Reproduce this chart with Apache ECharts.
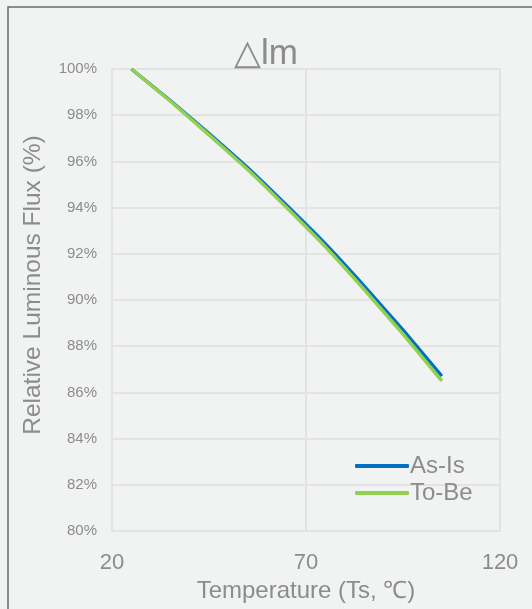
<!DOCTYPE html>
<html>
<head>
<meta charset="utf-8">
<script src="https://cdn.jsdelivr.net/npm/echarts@6/dist/echarts.min.js"></script>
<style>
html,body{margin:0;padding:0;background:#f1f2f2;}
#chart{width:532px;height:609px;}
</style>
</head>
<body>
<div id="chart"></div>
<script>
const temperatures = [25, 45, 65, 85, 105];
const asIs = [100, 97.2, 94.1, 90.6, 86.7];
const toBe = [100, 97.15, 94.0, 90.45, 86.5];
const seriesNames = ['As-Is', 'To-Be'];
const titleText = '△lm';
const xName = 'Temperature (Ts, ℃)';
const yName = 'Relative Luminous Flux (%)';

const chart = echarts.init(document.getElementById('chart'), null, {renderer: 'canvas'});
const font = 'Liberation Sans, Arial, sans-serif';
const grey = '#8c8c8c';
const gridColor = '#e3e3e3';

chart.setOption({
  backgroundColor: '#f1f2f2',
  animation: false,
  textStyle: {fontFamily: font},
  title: {
    text: titleText, left: 'center', top: 32,
    textStyle: {fontSize: 35, fontWeight: 'normal', color: grey, fontFamily: font}
  },
  graphic: [{
    type: 'rect', shape: {x: 8, y: 7, width: 600, height: 700},
    style: {fill: 'none', stroke: '#6a6a6a', lineWidth: 1.5}, silent: true
  }],
  grid: {left: 112, right: 32, top: 69, bottom: 78},
  legend: {
    left: 355, top: 454, orient: 'vertical', padding: 0,
    itemWidth: 54, itemHeight: 4, itemGap: 3, icon: 'roundRect',
    textStyle: {fontSize: 24, color: grey, lineHeight: 24, padding: [0, 0, 0, -4]},
    data: seriesNames
  },
  xAxis: {
    type: 'value', min: 20, max: 120, interval: 50,
    name: xName, nameLocation: 'middle', nameGap: 46,
    nameTextStyle: {fontSize: 24, color: grey},
    axisLine: {show: false}, axisTick: {show: false},
    axisLabel: {fontSize: 22, color: grey, margin: 21},
    splitLine: {show: true, lineStyle: {color: gridColor, width: 2}}
  },
  yAxis: {
    type: 'value', min: 80, max: 100, interval: 2,
    name: yName, nameLocation: 'middle', nameGap: 66,
    nameTextStyle: {fontSize: 24.5, color: grey, padding: [0, 0, 0, 30]},
    axisLine: {show: true, lineStyle: {color: gridColor, width: 2}},
    axisTick: {show: false},
    axisLabel: {fontSize: 15, color: grey, margin: 15, formatter: '{value}%'},
    splitLine: {show: true, lineStyle: {color: gridColor, width: 2}}
  },
  series: [
    {
      name: seriesNames[0], type: 'line', smooth: true, showSymbol: false, symbol: 'none',
      data: temperatures.map((t, i) => [t, asIs[i]]),
      lineStyle: {color: '#0070c0', width: 3.5}, itemStyle: {color: '#0070c0'}
    },
    {
      name: seriesNames[1], type: 'line', smooth: true, showSymbol: false, symbol: 'none',
      data: temperatures.map((t, i) => [t, toBe[i]]),
      lineStyle: {color: '#92d050', width: 3.5}, itemStyle: {color: '#92d050'}
    }
  ]
});
</script>
</body>
</html>
